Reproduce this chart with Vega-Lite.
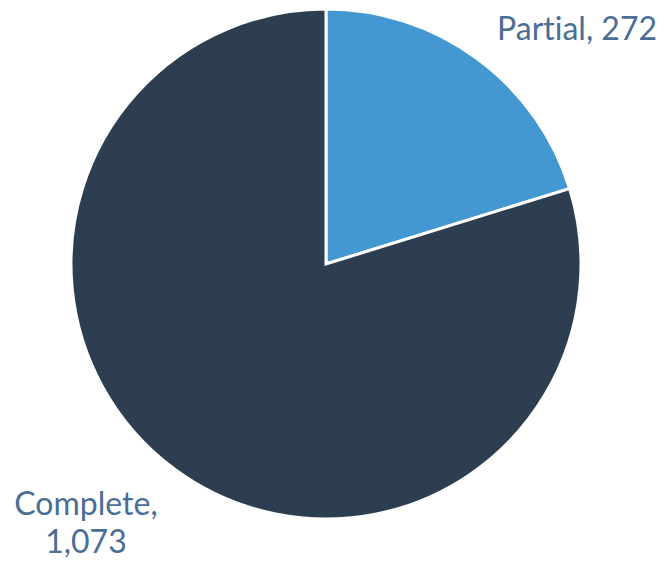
{
  "$schema": "https://vega.github.io/schema/vega-lite/v6.json",
  "width": 652,
  "height": 528,
  "autosize": {"type": "none"},
  "padding": {"left": 0, "top": 0, "right": 12, "bottom": 33},
  "background": "white",
  "config": {"view": {"stroke": null}},
  "data": {"values": [
    {"category": "Partial", "value": 272, "label": "Part\u200cial, 272"},
    {"category": "Complete", "value": 1073, "label": "Complete,\n1,073"}
  ]},
  "encoding": {
    "theta": {"field": "value", "type": "quantitative", "stack": true},
    "order": {"field": "category", "sort": "descending"}
  },
  "layer": [
    {
      "mark": {"type": "arc", "outerRadius": 255, "stroke": "white", "strokeWidth": 3},
      "encoding": {
        "color": {"field": "category", "type": "nominal", "legend": null,
          "scale": {"domain": ["Partial", "Complete"], "range": ["#4398d1", "#2c3e50"]}}
      }
    },
    {
      "mark": {"type": "text", "radius": 300, "align": "left", "baseline": "middle", "dx": -7, "dy": 7,
        "font": "Lato", "fontSize": 32, "color": "#4b6e95", "lineBreak": "\n"},
      "encoding": {
        "text": {"condition": {"test": "datum.category === 'Partial'", "field": "label"}, "value": ""}
      }
    },
    {
      "mark": {"type": "text", "radius": 300, "align": "center", "baseline": "middle", "dx": -62, "dy": 0,
        "font": "Lato", "fontSize": 32, "color": "#4b6e95", "lineBreak": "\n", "lineHeight": 38},
      "encoding": {
        "text": {"condition": {"test": "datum.category === 'Complete'", "field": "label"}, "value": ""}
      }
    }
  ]
}
